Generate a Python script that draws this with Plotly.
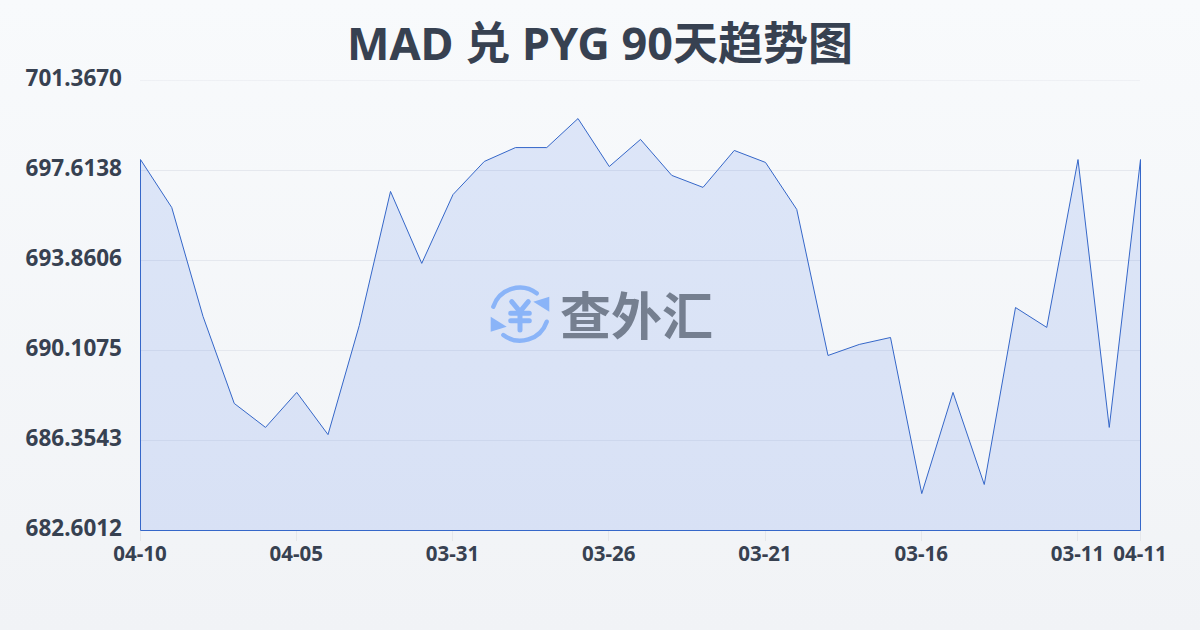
import base64
import plotly.graph_objects as go

dates = ["04-10","04-09","04-08","04-07","04-06","04-05","04-04","04-03","04-02","04-01","03-31",
         "03-30","03-29","03-28","03-27","03-26","03-25","03-24","03-23","03-22","03-21",
         "03-20","03-19","03-18","03-17","03-16","03-15","03-14","03-13","03-12","03-11","03-10","04-11"]
rates = [698.07,696.07,691.53,687.90,686.90,688.36,686.60,691.15,696.74,693.74,696.61,
         697.99,698.57,698.57,699.78,697.78,698.91,697.41,696.91,698.45,697.95,
         695.99,689.90,690.36,690.65,684.14,688.36,684.52,691.90,691.07,698.07,686.90,698.07]
y_ticks = [682.6012,686.3543,690.1075,693.8606,697.6138,701.3670]
y_labels = ["682.6012","686.3543","690.1075","693.8606","697.6138","701.3670"]
x_tick_index = [0,5,10,15,20,25,30,32]
title = "MAD 兑 PYG 90天趋势图"
watermark = "查外汇"

idx = list(range(len(dates)))
base = y_ticks[0]

bg_svg = ('<svg xmlns="http://www.w3.org/2000/svg" width="1200" height="630" preserveAspectRatio="none">'
          '<defs><linearGradient id="g" x1="0" y1="0" x2="0" y2="1"><stop offset="0" stop-color="#f8fafc"/>'
          '<stop offset="1" stop-color="#f1f3f6"/></linearGradient></defs>'
          '<rect width="1200" height="630" fill="url(#g)"/></svg>')
logo_svg = ('<svg xmlns="http://www.w3.org/2000/svg" viewBox="0 0 60 60" width="60" height="60">'
            '<g fill="none" stroke="#8ab4f8" stroke-linecap="round" stroke-linejoin="round">'
            '<path stroke-width="4.4" d="M3.3 21.7 A28 28 0 0 1 46.7 8.3"/>'
            '<path stroke-width="4.4" d="M56.7 36.7 A28 28 0 0 1 13.3 50"/>'
            '<path stroke-width="5" d="M21.7 16.7 L30 26.7 L38.3 16.7 M20.7 28.3 H39.3 M20.7 35.7 H39.3 M30 26.7 V45"/></g>'
            '<path d="M59.3 11.7 L59.3 26.7 L43.3 16.7 Z M0.7 31.7 L0.7 46.7 L16.7 41.7 Z" fill="#8ab4f8"/></svg>')
def uri(s):
    return "data:image/svg+xml;base64," + base64.b64encode(s.encode()).decode()

fig = go.Figure()
fig.add_trace(go.Scatter(
    x=idx + [idx[-1], idx[0], idx[0]],
    y=rates + [base, base, rates[0]],
    mode="lines",
    fill="toself",
    cliponaxis=False,
    line=dict(color="#3567c9", width=1),
    fillcolor="rgba(37,99,235,0.125)",
    hoverinfo="skip",
    showlegend=False,
))
fig.update_layout(
    width=1200, height=630,
    margin=dict(l=140, r=60, t=80, b=100, autoexpand=False),
    paper_bgcolor="#f5f7fa", plot_bgcolor="rgba(0,0,0,0)",
    font=dict(family="Noto Sans, Noto Sans CJK SC", color="#374151"),
    title=dict(text="<b>%s</b>" % title, x=0.5, xanchor="center", y=0.929, yanchor="middle",
               font=dict(size=45, family="Noto Sans, Noto Sans CJK SC", color="#374151")),
    xaxis=dict(range=[0, 32], tickmode="array", tickvals=x_tick_index,
               ticktext=["<b>%s</b>" % dates[i] for i in x_tick_index],
               showgrid=False, zeroline=False, showline=False,
               ticks="outside", ticklen=10, tickcolor="#e5e7eb", tickwidth=1,
               ticklabelstandoff=-5,
               tickangle=0, tickfont=dict(size=20.5, color="#374151")),
    yaxis=dict(range=[y_ticks[0], y_ticks[-1]], tickmode="array", tickvals=y_ticks,
               ticktext=["<b>%s</b>" % t for t in y_labels],
               showgrid=True, gridcolor="#e5e8ee", gridwidth=1, zeroline=False, showline=False,
               ticks="", ticklabelstandoff=17, tickfont=dict(size=22.5, color="#374151")),
    shapes=[dict(type="line", xref="paper", x0=0, x1=1, yref="y", y0=y_ticks[-1], y1=y_ticks[-1],
                 line=dict(color="#e5e8ee", width=1), layer="below")],
    images=[
        dict(source=uri(bg_svg), xref="paper", yref="paper", x=-140/1000, y=1+80/450,
             sizex=1200/1000, sizey=630/450, xanchor="left", yanchor="top", sizing="stretch", layer="below"),
        dict(source=uri(logo_svg), xref="paper", yref="paper", x=350/1000, y=(530-285)/450,
             sizex=60/1000, sizey=60/450, xanchor="left", yanchor="top", sizing="contain", layer="above"),
    ],
    annotations=[dict(text="<b>%s</b>" % watermark, xref="paper", yref="paper", x=(636-140)/1000, y=(530-313)/450,
                      xanchor="center", yanchor="middle", showarrow=False,
                      font=dict(size=51, family="Noto Sans CJK SC", color="#757f90"))],
)
post = """
document.documentElement.style.margin='0';
document.body.style.margin='0';
document.body.style.overflow='hidden';
document.querySelectorAll('.ytick text').forEach(function(t){t.setAttribute('dy','-2');});
document.querySelectorAll('.scatterlayer').forEach(function(g){g.setAttribute('transform','translate(0.5,0.5)');
  var e=g; while(e && e.tagName!=='svg'){e.removeAttribute('clip-path'); e=e.parentNode;}
  g.querySelectorAll('[clip-path]').forEach(function(c){c.removeAttribute('clip-path');});
  g.querySelectorAll('*').forEach(function(c){if(c.style&&c.style.clipPath){c.style.clipPath='';}});
});
document.querySelectorAll('.plot').forEach(function(p){p.removeAttribute('clip-path');p.style.clipPath='';});
"""
fig.write_html("out.html", post_script=post, config={"displayModeBar": False})
